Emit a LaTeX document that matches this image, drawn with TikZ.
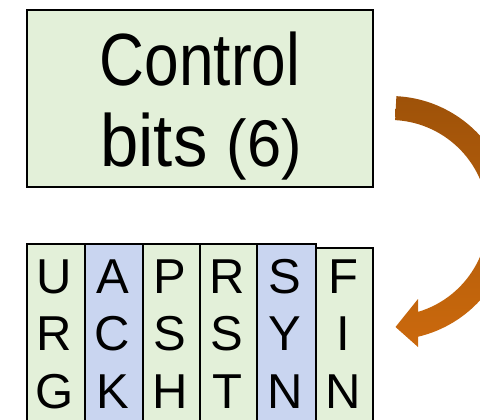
\documentclass[tikz,border=0pt]{standalone}
\usepackage{graphicx}
\usepackage{fontspec}
\setmainfont{Liberation Sans}
\definecolor{cellgreen}{HTML}{E3F0D9}
\definecolor{cellblue}{HTML}{C9D5F0}
\definecolor{arrowtop}{HTML}{9E5209}
\definecolor{arrowbot}{HTML}{CB690D}
\newcommand\narrowtext[2]{\scalebox{#1}[1]{#2}}
\begin{document}
\begin{tikzpicture}[x=1pt,y=-1pt,
  ctrlbox/.style={draw=black, line width=2pt, fill=cellgreen, inner sep=0pt,
    minimum width=346pt, minimum height=177pt},
  bitcell/.style={draw=black, line width=1.5pt, inner sep=0pt, anchor=north,
    minimum height=200pt},
  bigtext/.style={anchor=base, inner sep=0pt},
  bitletter/.style={anchor=base, inner sep=0pt, font=\fontsize{49}{49}\selectfont}]
\useasboundingbox (0,0) rectangle (480,420);
\clip (0,0) rectangle (480,420);

% header box
\node[ctrlbox] (ctrl) at (200,98.5) {};
\node[bigtext] (ctrl-a) at (200,86)
  {\narrowtext{0.84}{\fontsize{74}{80}\selectfont Control}};
\node[bigtext] (ctrl-b) at (201,167)
  {\narrowtext{0.93}{\fontsize{74}{80}\selectfont bits \fontsize{66}{80}\selectfont(6)}};

% the six flag columns
\foreach \xl/\xr/\top/\col/\a/\b/\c [count=\i] in {
    27/85/243/cellgreen/U/R/G,
    85/143/243/cellblue/A/C/K,
    143/200/243/cellgreen/P/S/H,
    200/257/243/cellgreen/R/S/T,
    257/316/243/cellblue/S/Y/N,
    316/373/247/cellgreen/F/I/N}{
  \pgfmathsetmacro\cx{(\xl+\xr)/2}
  \pgfmathsetmacro\w{\xr-\xl}
  \node[bitcell, fill=\col, minimum width=\w pt] (cell\i) at (\cx,\top) {};
  \node[bitletter] (flag\i-1) at (\cx-1.5,293) {\a};
  \node[bitletter] (flag\i-2) at (\cx-1.5,350) {\b};
  \node[bitletter] (flag\i-3) at (\cx-1.5,408) {\c};
}

% curved block arrow from the header down to the flags
\shade[top color=arrowtop, bottom color=arrowbot]
  (390,218) ++(-87:122) arc[start angle=-87, end angle=76.7, radius=122]
  -- (418,347) -- (395.5,327) -- (418,299) -- (418,311.9)
  arc[start angle=73.4, end angle=-87, radius=98] -- cycle;
\end{tikzpicture}
\end{document}
